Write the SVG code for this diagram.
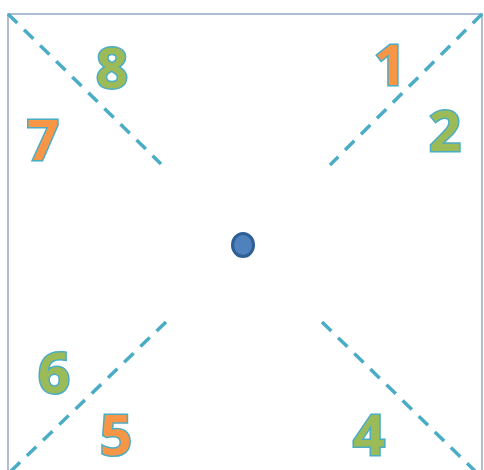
<svg xmlns="http://www.w3.org/2000/svg" width="484" height="470" viewBox="0 0 484 470">
<style>
.frame{fill:none;stroke:#93a9c6;stroke-width:1.5}
.dash{stroke:#4bacc6;stroke-width:3.5;stroke-dasharray:13 9.5;fill:none}
.num{font-family:"Open Sans","Liberation Sans",sans-serif;font-weight:bold;font-size:56px;text-anchor:middle;stroke:#4bacc6;stroke-width:3;paint-order:stroke}
.o{fill:#f79646}
.g{fill:#9bbb59}
</style>
<rect width="484" height="470" fill="#fff"/>
<path class="frame" d="M8,480 V14 H482 V480"/>
<g id="connectors">
<line class="dash" x1="8" y1="14" x2="161" y2="164"/>
<line class="dash" x1="482" y1="14" x2="330" y2="165"/>
<line class="dash" x1="166" y1="322" x2="10" y2="472"/>
<line class="dash" x1="322" y1="322" x2="476" y2="472"/>
</g>
<g id="center"><ellipse cx="243" cy="245" rx="10.5" ry="11.5" fill="#4f81bd" stroke="#2f5f97" stroke-width="3"/></g>
<g id="n1"><text class="num o" x="390" y="85">1</text></g>
<g id="n2"><text class="num g" x="445" y="151">2</text></g>
<g id="n4"><text class="num g" x="369" y="455">4</text></g>
<g id="n5"><text class="num o" x="116" y="455">5</text></g>
<g id="n6"><text class="num g" x="54" y="393">6</text></g>
<g id="n7"><text class="num o" x="43" y="160">7</text></g>
<g id="n8"><text class="num g" x="112" y="88">8</text></g>
</svg>
